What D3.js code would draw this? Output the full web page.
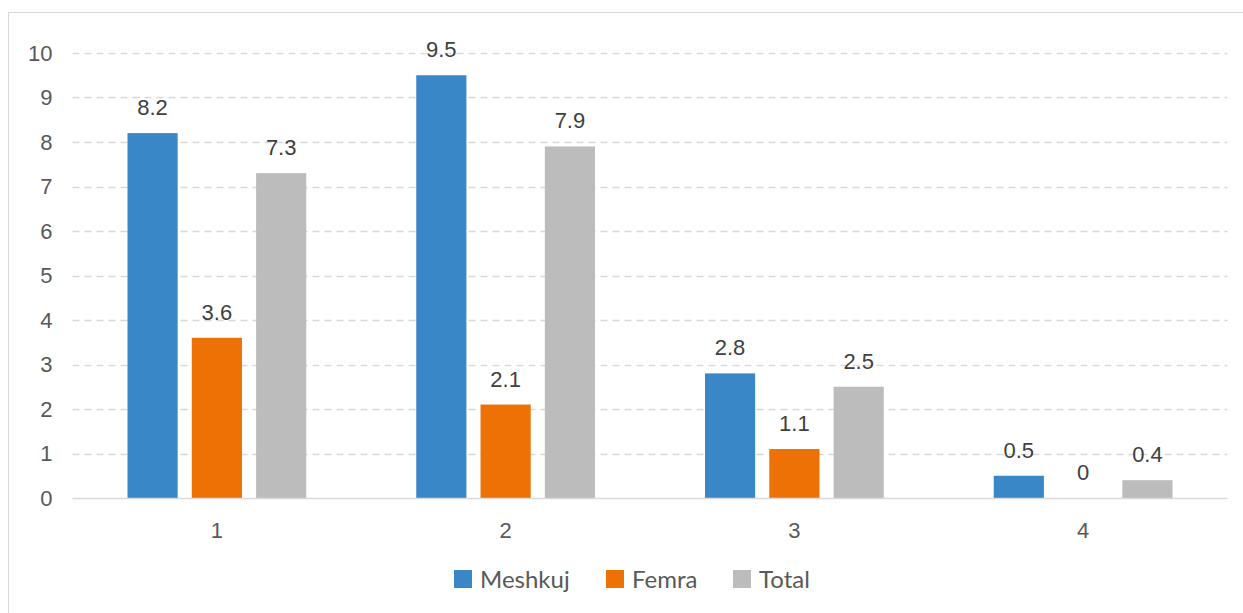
<!DOCTYPE html>
<html>
<head>
<meta charset="utf-8">
<script src="https://cdn.jsdelivr.net/npm/d3@7"></script>
<style>
  body { margin: 0; background: #fff; }
  svg { display: block; }
</style>
</head>
<body>
<svg width="1243" height="613"></svg>
<script>
// values
let categories = ["1", "2", "3", "4"];
let seriesNames = ["Meshkuj", "Femra", "Total"];
let meshkuj = [8.2, 9.5, 2.8, 0.5];
let femra = [3.6, 2.1, 1.1, 0];
let total = [7.3, 7.9, 2.5, 0.4];
let yTicks = [0, 1, 2, 3, 4, 5, 6, 7, 8, 9, 10];

let colors = ["#3a87c8", "#ed7104", "#bcbcbc"];
let series = [meshkuj, femra, total];

let svg = d3.select("svg");
let margin = {left: 72.5, right: 15.5, top: 53, bottom: 115};
let width = 1243 - margin.left - margin.right;
let height = 613 - margin.top - margin.bottom;

// chart border
svg.append("rect")
    .attr("x", 8.5).attr("y", 12.5)
    .attr("width", 1260).attr("height", 640)
    .attr("fill", "none")
    .attr("stroke", "#d9d9d9");

let g = svg.append("g").attr("transform", "translate(" + margin.left + "," + margin.top + ")");

let x0 = d3.scaleBand().domain(categories).range([0, width]).paddingInner(0).paddingOuter(0);
let x1 = d3.scaleBand().domain(seriesNames).range([55, x0.bandwidth() - 55]).paddingInner(0.22).paddingOuter(0);
let y = d3.scaleLinear().domain([0, 10]).range([height, 0]);

// gridlines
g.append("g")
    .selectAll("line")
    .data(yTicks.filter(d => d > 0))
    .enter().append("line")
    .attr("x1", 0).attr("x2", width)
    .attr("y1", d => Math.round(y(d)) + 0.5).attr("y2", d => Math.round(y(d)) + 0.5)
    .attr("stroke", "#d9d9d9")
    .attr("stroke-width", 1.3)
    .attr("stroke-dasharray", "7,5");

// y tick labels
g.append("g")
    .selectAll("text")
    .data(yTicks)
    .enter().append("text")
    .attr("x", -20)
    .attr("y", d => y(d))
    .attr("dy", "0.35em")
    .attr("text-anchor", "end")
    .style("font-family", "Liberation Sans, Arial, sans-serif")
    .style("font-size", "22px")
    .attr("fill", "#595959")
    .text(d => d);

// bars
let groups = g.append("g")
    .selectAll("g")
    .data(seriesNames)
    .enter().append("g")
    .attr("fill", (d, i) => colors[i]);

groups.selectAll("rect")
    .data((d, i) => series[i].map((v, j) => ({cat: categories[j], name: d, value: v})))
    .enter().append("rect")
    .attr("x", d => x0(d.cat) + x1(d.name))
    .attr("y", d => y(d.value))
    .attr("width", x1.bandwidth())
    .attr("height", d => height - y(d.value));

// data labels
groups.selectAll("text")
    .data((d, i) => series[i].map((v, j) => ({cat: categories[j], name: d, value: v})))
    .enter().append("text")
    .attr("x", d => x0(d.cat) + x1(d.name) + x1.bandwidth() / 2)
    .attr("y", d => y(d.value) - 18)
    .attr("text-anchor", "middle")
    .style("font-family", "Liberation Sans, Arial, sans-serif")
    .style("font-size", "22px")
    .attr("fill", "#404040")
    .text(d => d.value);

// x axis line
g.append("line")
    .attr("x1", 0).attr("x2", width)
    .attr("y1", height + 0.5).attr("y2", height + 0.5)
    .attr("stroke", "#d9d9d9")
    .attr("stroke-width", 1.5);

// x labels
g.append("g")
    .selectAll("text")
    .data(categories)
    .enter().append("text")
    .attr("x", d => x0(d) + x0.bandwidth() / 2)
    .attr("y", height + 40)
    .attr("text-anchor", "middle")
    .style("font-family", "Liberation Sans, Arial, sans-serif")
    .style("font-size", "22px")
    .attr("fill", "#595959")
    .text(d => d);

// legend
let legendX = [454, 606, 733];
let legend = svg.append("g")
    .selectAll("g")
    .data(seriesNames)
    .enter().append("g")
    .attr("transform", (d, i) => "translate(" + legendX[i] + ",570)");
legend.append("rect")
    .attr("width", 18).attr("height", 18)
    .attr("fill", (d, i) => colors[i]);
legend.append("text")
    .attr("x", 26)
    .attr("y", 18)
    .style("font-family", "Lato, sans-serif")
    .style("font-size", "24px")
    .attr("fill", "#595959")
    .text(d => d);
</script>
</body>
</html>
